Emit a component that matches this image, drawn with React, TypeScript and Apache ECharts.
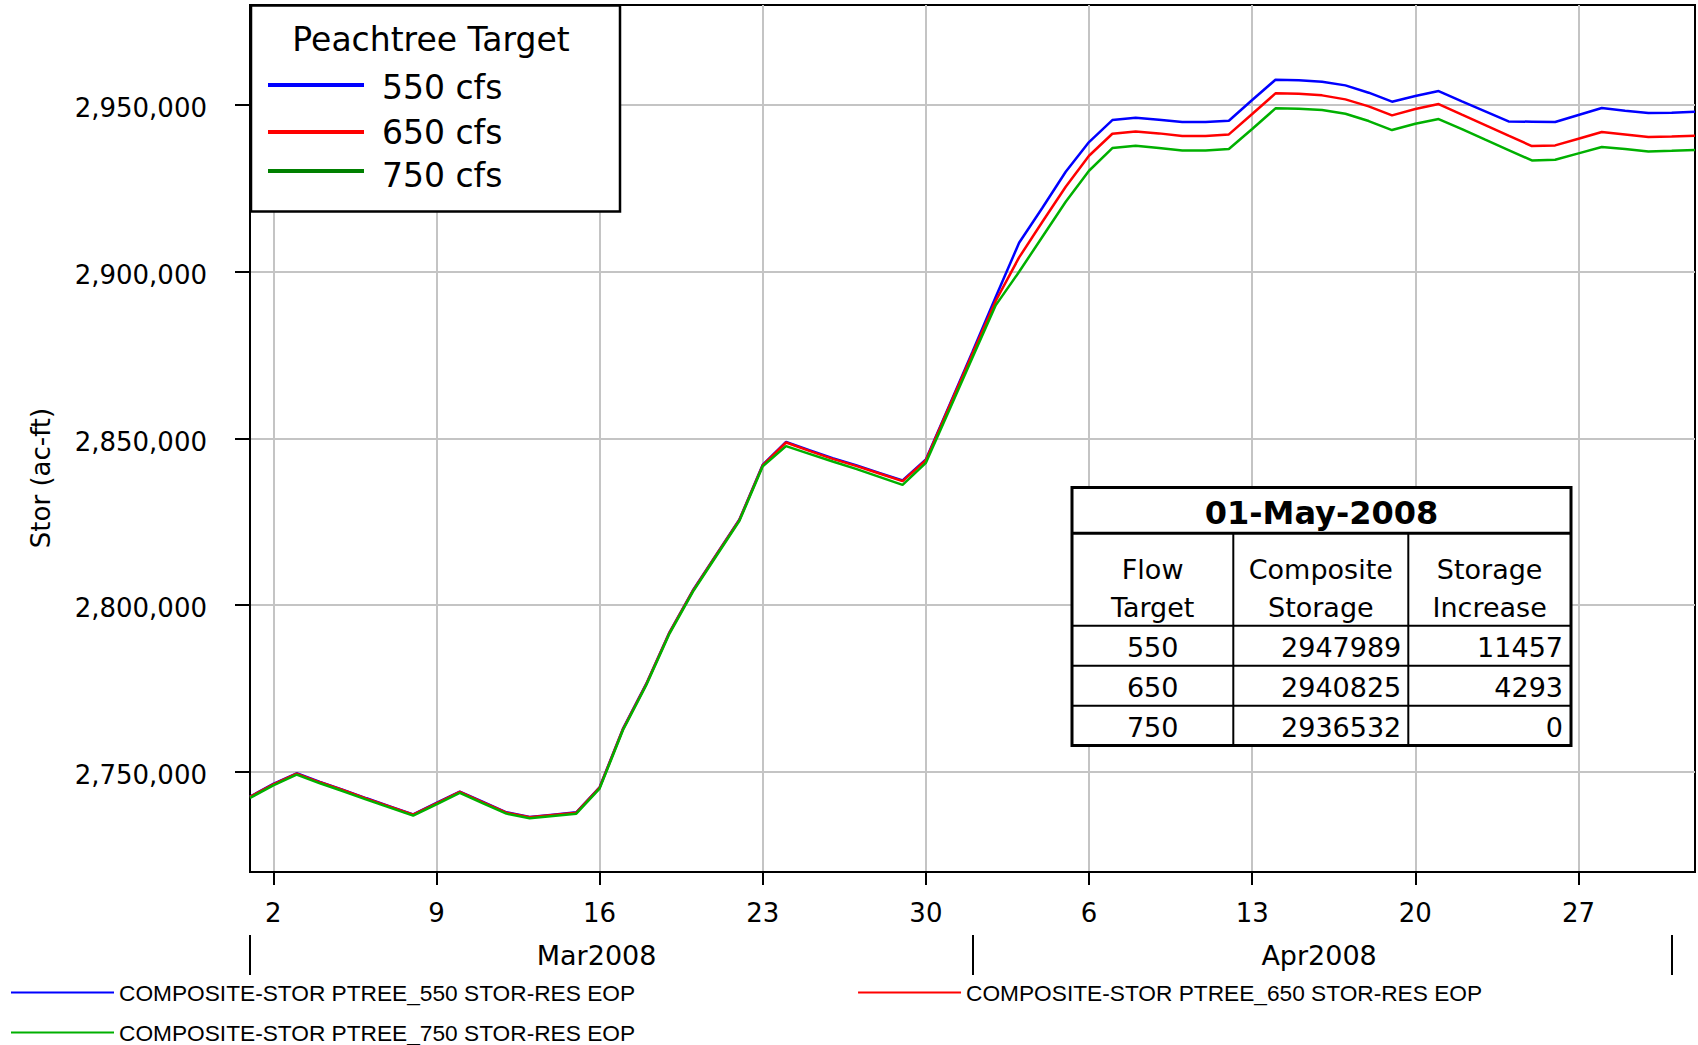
import React, { useEffect, useRef } from 'react';
import * as echarts from 'echarts';

// ---------------- data ----------------
const DAY = 86400000;
const START = Date.UTC(2008, 2, 1); // 29Feb2008 24:00
const X_MIN = Date.UTC(2008, 2, 1);
const X_MAX = Date.UTC(2008, 4, 2);

const X_TICKS = [
  Date.UTC(2008, 2, 2), Date.UTC(2008, 2, 9), Date.UTC(2008, 2, 16), Date.UTC(2008, 2, 23),
  Date.UTC(2008, 2, 30), Date.UTC(2008, 3, 6), Date.UTC(2008, 3, 13), Date.UTC(2008, 3, 20),
  Date.UTC(2008, 3, 27),
];
const Y_TICKS = [2750000, 2800000, 2850000, 2900000, 2950000];
const MONTH_LABELS = ['Mar2008', 'Apr2008'];
const MONTH_MIDS = [Date.UTC(2008, 2, 16), Date.UTC(2008, 3, 16)];
const MONTH_BOUNDS = [Date.UTC(2008, 2, 1), Date.UTC(2008, 3, 1), Date.UTC(2008, 4, 1)];

const SERIES_NAMES = [
  'COMPOSITE-STOR PTREE_550 STOR-RES EOP',
  'COMPOSITE-STOR PTREE_650 STOR-RES EOP',
  'COMPOSITE-STOR PTREE_750 STOR-RES EOP',
];
const SERIES_COLORS = ['#0000ff', '#ff0000', '#00b000'];

const STOR_550 = [
  2742600, 2746400, 2749600, 2747000, 2744600, 2742100, 2739700, 2737300, 2740700, 2744100,
  2741000, 2737900, 2736500, 2737200, 2737900, 2745400, 2762900, 2776400, 2791900, 2804400,
  2815100, 2825700, 2842100, 2849000, 2846500, 2844100, 2842000, 2839700, 2837400, 2843700,
  2859800,
  2876000, 2892500, 2908700, 2919200, 2930000, 2938900, 2945500, 2946200, 2945600, 2944900,
  2944900, 2945300, 2951500, 2957600, 2957400, 2957000, 2955900, 2953700, 2951000, 2952700,
  2954200, 2951100, 2948100, 2945100, 2945000, 2944900, 2947000, 2949100, 2948300, 2947600,
  2947700, 2947989,
];
const STOR_650 = [
  2742500, 2746300, 2749500, 2746900, 2744500, 2742000, 2739600, 2737200, 2740600, 2744000,
  2740900, 2737800, 2736400, 2737100, 2737800, 2745300, 2762800, 2776300, 2791800, 2804300,
  2815000, 2825600, 2842000, 2848800, 2846300, 2843900, 2841800, 2839500, 2837200, 2843500,
  2859500,
  2875500, 2891300, 2904300, 2915000, 2925500, 2934800, 2941400, 2942100, 2941500, 2940700,
  2940700, 2941200, 2947300, 2953500, 2953400, 2952900, 2951700, 2949600, 2946900, 2948800,
  2950300, 2947100, 2944000, 2940800, 2937700, 2937900, 2939900, 2941900, 2941200, 2940400,
  2940600, 2940825,
];
const STOR_750 = [
  2742200, 2746000, 2749200, 2746600, 2744200, 2741700, 2739300, 2736900, 2740300, 2743700,
  2740600, 2737500, 2736100, 2736800, 2737500, 2745000, 2762500, 2776000, 2791500, 2804000,
  2814700, 2825300, 2841700, 2847700, 2845400, 2843100, 2840900, 2838500, 2836100, 2842700,
  2858500,
  2874300, 2890000, 2900000, 2910500, 2921000, 2930300, 2937100, 2937800, 2937100, 2936400,
  2936400, 2936800, 2942800, 2949000, 2948900, 2948500, 2947400, 2945200, 2942500, 2944400,
  2945800, 2942800, 2939600, 2936500, 2933400, 2933600, 2935500, 2937400, 2936800, 2936100,
  2936300, 2936532,
];
const ALL_SERIES = [STOR_550, STOR_650, STOR_750];

const LEGEND_TITLE = 'Peachtree Target';
const LEGEND_ITEMS = ['550 cfs', '650 cfs', '750 cfs'];
const LEGEND_COLORS = ['#0000ff', '#ff0000', '#008000'];

const TABLE_TITLE = '01-May-2008';
const TABLE_HEADERS = [['Flow', 'Target'], ['Composite', 'Storage'], ['Storage', 'Increase']];
const TABLE_TARGETS = ['550', '650', '750'];
const TABLE_STORAGE = [2947989, 2940825, 2936532];
const TABLE_INCREASE = [11457, 4293, 0];

const Y_TITLE = 'Stor (ac-ft)';

// ---------------- styling ----------------
const FONT = "'DejaVu Sans', 'Liberation Sans', sans-serif";
const LEGEND_FONT = "'Liberation Sans', Arial, sans-serif";
const GRID = { left: 250, top: 5, width: 1445, height: 867 };

function txt(text: string, x: number, y: number, size: number, align: string, bold = false, rotation = 0) {
  return {
    type: 'text',
    x,
    y,
    rotation,
    z: 60,
    style: {
      text,
      fontSize: size,
      fontFamily: FONT,
      fontWeight: bold ? 'bold' : 'normal',
      fill: '#000',
      align,
      verticalAlign: 'middle',
      textAlign: align,
      textVerticalAlign: 'middle',
    },
  };
}
function ln(x1: number, y1: number, x2: number, y2: number, color: string, w: number) {
  return {
    type: 'line',
    z: 60,
    shape: { x1, y1, x2, y2 },
    style: { stroke: color, lineWidth: w },
  };
}

function buildGraphics(px: (t: number) => number) {
  const g: any[] = [];
  // y axis title
  g.push(txt(Y_TITLE, 41, 478, 26, 'center', false, Math.PI / 2));
  // month separators and labels
  MONTH_BOUNDS.forEach((t) => {
    const x = Math.round(px(t));
    g.push(ln(x, 935, x, 975, '#000', 2));
  });
  MONTH_LABELS.forEach((m, i) => {
    g.push(txt(m, px(MONTH_MIDS[i]) - 3, 955, 27, 'center'));
  });
  // top legend box
  g.push({
    type: 'rect',
    z: 55,
    shape: { x: 251, y: 5.5, width: 369, height: 206 },
    style: { fill: '#fff', stroke: '#000', lineWidth: 2.5 },
  });
  g.push(txt(LEGEND_TITLE, 431, 39, 33, 'center'));
  const lineYs = [85, 132, 171];
  const textYs = [87, 132, 175];
  LEGEND_ITEMS.forEach((name, i) => {
    g.push(ln(268, lineYs[i], 364, lineYs[i], LEGEND_COLORS[i], 4));
    g.push(txt(name, 382, textYs[i], 33, 'left'));
  });
  // table
  const L = 1072, R = 1571, T = 487.5, B = 745.5;
  const c1 = 1233.3, c2 = 1408.3;
  const rTitle = 533.3, rHead = 625.7, r1 = 665.7, r2 = 705.7;
  g.push({
    type: 'rect',
    z: 55,
    shape: { x: L, y: T, width: R - L, height: B - T },
    style: { fill: '#fff', stroke: '#000', lineWidth: 3 },
  });
  g.push(ln(L, rTitle, R, rTitle, '#000', 3));
  g.push(ln(L, rHead, R, rHead, '#000', 2));
  g.push(ln(L, r1, R, r1, '#000', 2));
  g.push(ln(L, r2, R, r2, '#000', 2));
  g.push(ln(c1, rTitle, c1, B, '#000', 2));
  g.push(ln(c2, rTitle, c2, B, '#000', 2));
  g.push(txt(TABLE_TITLE, (L + R) / 2, 513, 32, 'center', true));
  const colCenters = [(L + c1) / 2, (c1 + c2) / 2, (c2 + R) / 2];
  TABLE_HEADERS.forEach((lines, i) => {
    g.push(txt(lines[0], colCenters[i], 569, 27, 'center'));
    g.push(txt(lines[1], colCenters[i], 607, 27, 'center'));
  });
  const rowYs = [647, 687, 727];
  TABLE_TARGETS.forEach((t, i) => {
    g.push(txt(t, colCenters[0], rowYs[i], 27, 'center'));
    g.push(txt(String(TABLE_STORAGE[i]), c2 - 7, rowYs[i], 27, 'right'));
    g.push(txt(String(TABLE_INCREASE[i]), R - 8, rowYs[i], 27, 'right'));
  });
  return g;
}

const legendText = { color: '#000', fontSize: 22.7, fontFamily: LEGEND_FONT };

const option: any = {
  animation: false,
  backgroundColor: '#ffffff',
  grid: {
    ...GRID,
    containLabel: false,
    outerBoundsMode: 'none',
    show: true,
    borderColor: '#000',
    borderWidth: 2,
    backgroundColor: 'transparent',
  },
  xAxis: {
    type: 'value',
    min: X_MIN,
    max: X_MAX,
    axisLine: { show: true, lineStyle: { color: '#000', width: 2 } },
    axisTick: {
      show: true,
      inside: false,
      length: 13,
      customValues: X_TICKS,
      lineStyle: { color: '#000', width: 2 },
    },
    minorTick: { show: false },
    axisLabel: {
      show: true,
      customValues: X_TICKS,
      formatter: (v: number) => String(new Date(v).getUTCDate()),
      color: '#000',
      fontSize: 26,
      fontFamily: FONT,
      margin: 28,
      hideOverlap: false,
    },
    splitLine: { show: true, lineStyle: { color: '#c4c4c4', width: 2 } },
  },
  yAxis: {
    type: 'value',
    min: 2720000,
    max: 2980000,
    axisLine: { show: true, lineStyle: { color: '#000', width: 2 } },
    axisTick: {
      show: true,
      inside: false,
      length: 15,
      customValues: Y_TICKS,
      lineStyle: { color: '#000', width: 2 },
    },
    minorTick: { show: false },
    axisLabel: {
      show: true,
      customValues: Y_TICKS,
      formatter: (v: number) => '{v|' + v.toLocaleString('en-US') + '}',
      color: '#000',
      fontSize: 26,
      fontFamily: FONT,
      margin: 43,
      rich: {
        v: { color: '#000', fontSize: 26, fontFamily: FONT, padding: [6, 0, 0, 0] },
      },
    },
    splitLine: { show: true, lineStyle: { color: '#c4c4c4', width: 2 } },
  },
  legend: [
    {
      data: [SERIES_NAMES[0], SERIES_NAMES[1]],
      left: 11,
      top: 981,
      padding: 0,
      orient: 'horizontal',
      icon: 'rect',
      itemWidth: 103,
      itemHeight: 2,
      itemGap: 223,
      textStyle: legendText,
      selectedMode: false,
    },
    {
      data: [SERIES_NAMES[2]],
      left: 11,
      top: 1021,
      padding: 0,
      orient: 'horizontal',
      icon: 'rect',
      itemWidth: 103,
      itemHeight: 2,
      itemGap: 223,
      textStyle: legendText,
      selectedMode: false,
    },
  ],
  series: ALL_SERIES.map((vals, si) => ({
    name: SERIES_NAMES[si],
    type: 'line',
    symbol: 'none',
    showSymbol: false,
    color: SERIES_COLORS[si],
    lineStyle: { color: SERIES_COLORS[si], width: 2.5 },
    itemStyle: { color: SERIES_COLORS[si] },
    emphasis: { disabled: true },
    z: 2 + si,
    data: vals.map((v, i) => [START + i * DAY, v]),
  })),
};

export default function App() {
  const ref = useRef<HTMLDivElement>(null);
  useEffect(() => {
    if (!ref.current) return;
    const chart = echarts.init(ref.current, null, { renderer: 'svg' });
    chart.setOption(option);
    const px = (t: number) => chart.convertToPixel({ xAxisIndex: 0 }, t) as number;
    chart.setOption({ graphic: { elements: buildGraphics(px) } });
    return () => chart.dispose();
  }, []);
  return (
    <div
      ref={ref}
      style={{ position: 'fixed', left: 0, top: 0, width: 1698, height: 1045, background: '#fff' }}
    />
  );
}
